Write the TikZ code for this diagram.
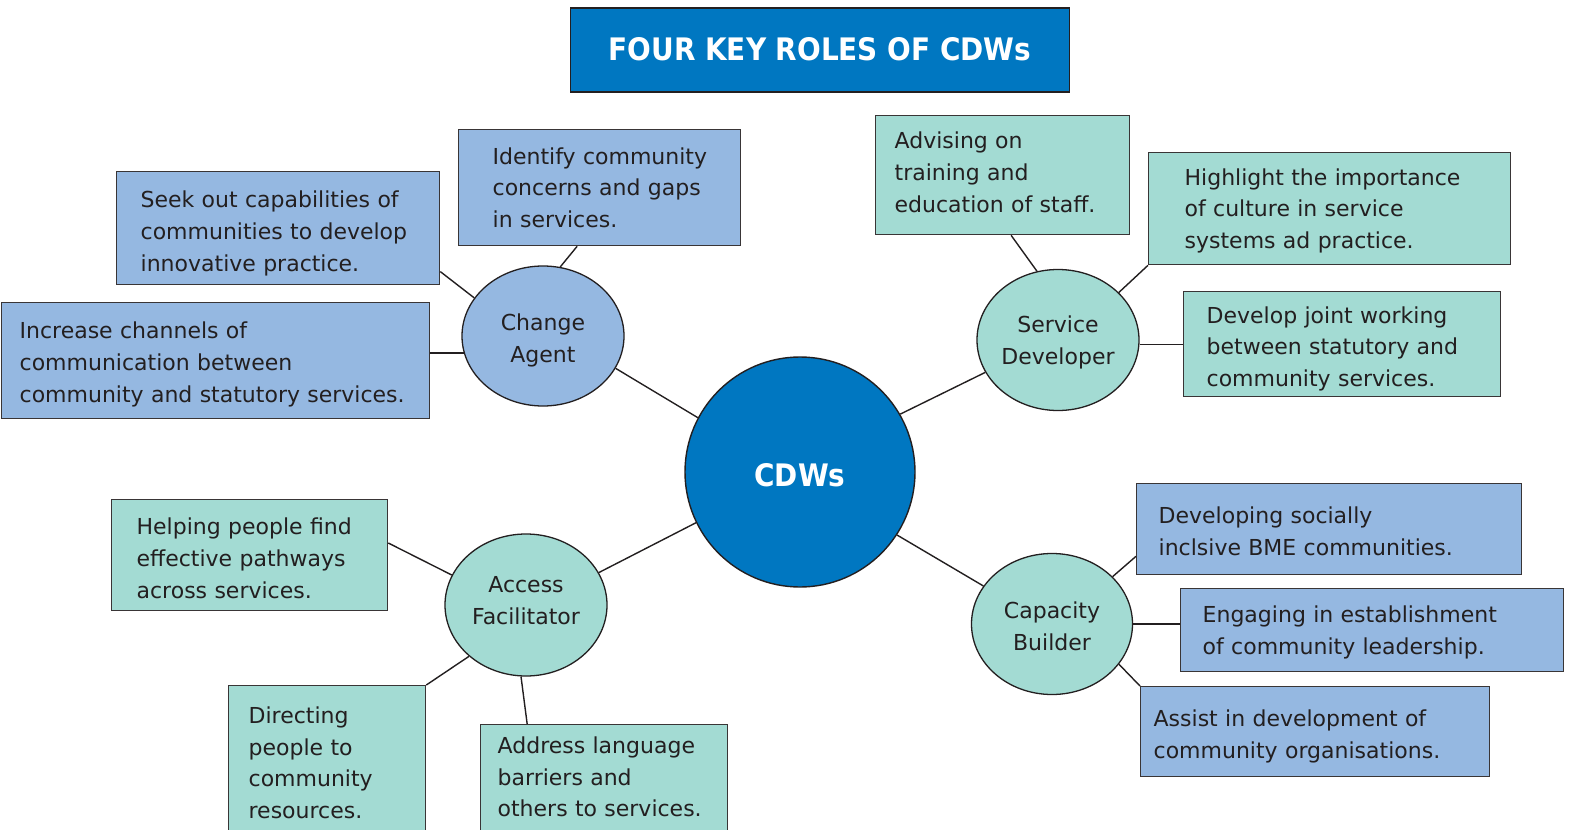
\documentclass[tikz,border=0pt]{standalone}
\usepackage{fontspec}
\setmainfont{DejaVu Sans}
\newfontfamily\headfont{DejaVu Sans Condensed}
\usetikzlibrary{calc,shapes.geometric}
\definecolor{cblue}{HTML}{0077C1}
\definecolor{lblue}{HTML}{95B8E1}
\definecolor{lteal}{HTML}{A3DBD3}
\definecolor{ink}{HTML}{231F20}
\newcommand\dn[1]{\rule{0pt}{#1pt}}
\newcommand\upx[1]{\rule[-#1pt]{0pt}{#1pt}}
\begin{document}
\begin{tikzpicture}[x=1pt,y=-1pt,
  every node/.style={font=\fontsize{22}{31.7}\selectfont, text=ink},
  box/.style={draw=ink!90, line width=1.3pt, rectangle, align=left, inner xsep=0pt, inner ysep=0pt, anchor=north west},
  bluebox/.style={box, fill=lblue},
  tealbox/.style={box, fill=lteal},
  role/.style={draw=ink, line width=1.3pt, ellipse, align=center, inner sep=0pt},
  conn/.style={draw=ink, line width=1.4pt}]
\useasboundingbox (0,0) rectangle (1569,830);
\clip (0,0) rectangle (1569,830);
\fill[white] (0,0) rectangle (1569,830);

% title
\node[draw=ink, line width=1.3pt, fill=cblue, minimum width=499, minimum height=84, inner sep=0pt,
      text=white, font=\fontsize{31}{36}\selectfont\headfont\bfseries] (title) at (820,50) {FOUR KEY ROLES OF CDWs\upx{3}};

% centre
\node[circle, draw=ink, line width=1.4pt, fill=cblue, minimum size=230, inner sep=0pt,
      text=white, font=\fontsize{31}{36}\selectfont\headfont\bfseries] (c) at (800,472) {\dn{29}CDWs};

% roles
\node[role, fill=lblue, minimum width=162, minimum height=140] (ca) at (543,336) {\dn{25}Change\\Agent};
\node[role, fill=lteal, minimum width=162, minimum height=141] (sd) at (1058,340) {\dn{21}Service\\Developer};
\node[role, fill=lteal, minimum width=162, minimum height=142] (af) at (526,605) {Access\\Facilitator\upx{9}};
\node[role, fill=lteal, minimum width=161, minimum height=141] (cb) at (1052,624) {\dn{21}Capacity\\Builder};

% boxes
\node[bluebox, minimum width=323, minimum height=113, text width=275] (b1) at (116,171)
  {\mbox{\dn{27}Seek out capabilities of}\\\mbox{communities to develop}\\\mbox{innovative practice.}};
\node[bluebox, minimum width=282, minimum height=116, text width=214] (b2) at (458,129)
  {\mbox{Identify community}\\\mbox{concerns and gaps}\\\mbox{in services.}};
\node[bluebox, minimum width=428, minimum height=116, text width=392] (b3) at (1,302)
  {\mbox{\dn{24}Increase channels of}\\\mbox{communication between}\\\mbox{community and statutory services.}};
\node[tealbox, minimum width=254, minimum height=119, text width=216] (b4) at (875,115)
  {\mbox{Advising on}\\\mbox{training and}\\\mbox{education of staff.\upx{6}}};
\node[tealbox, minimum width=362, minimum height=112, text width=290] (b5) at (1148,152)
  {\mbox{\dn{21}Highlight the importance}\\\mbox{of culture in service}\\\mbox{systems ad practice.}};
\node[tealbox, minimum width=317, minimum height=105, text width=271] (b6) at (1183,291)
  {\mbox{\dn{26}Develop joint working}\\\mbox{between statutory and}\\\mbox{community services.}};
\node[bluebox, minimum width=385, minimum height=91, text width=341] (b7) at (1136,483)
  {\mbox{\dn{21}Developing socially}\\\mbox{inclsive BME communities.}};
\node[bluebox, minimum width=383, minimum height=83, text width=339] (b8) at (1180,588)
  {\mbox{\dn{21}Engaging in establishment}\\\mbox{of community leadership.}};
\node[bluebox, minimum width=349, minimum height=90, text width=323] (b9) at (1140,686)
  {\mbox{\dn{26}Assist in development of}\\\mbox{community organisations.}};
\node[tealbox, minimum width=276, minimum height=111, text width=226] (b10) at (111,499)
  {\mbox{\dn{23}Helping people find}\\\mbox{effective pathways}\\\mbox{across services.}};
\node[tealbox, minimum width=197, text width=157, inner ysep=21pt, text depth=200pt] (b11) at (228,685)
  {\mbox{Directing}\\\mbox{people to}\\\mbox{community}\\\mbox{resources.}};
\node[tealbox, minimum width=247, text width=213, inner ysep=12pt, text depth=200pt] (b12) at (480,724)
  {\mbox{Address language}\\\mbox{barriers and}\\\mbox{others to services.}};

% connectors
\draw[conn] (ca.151) -- (b1.-15);
\draw[conn] (ca.76) -- (b2.-111);
\draw[conn] (ca.-168) -- (b3.east |- ca.-168);
\draw[conn] (ca.-24) -- (c.152);

\draw[conn] (sd.107) -- (b4.-82);
\draw[conn] (sd.38) -- (b5.south west);
\draw[conn] (sd.-3) -- (b6.west |- sd.-3);
\draw[conn] (sd.-156) -- (c.30);

\draw[conn] (af.158) -- (b10.5);
\draw[conn] (af.-138) -- (b11.north east);
\draw[conn] (af.-94) -- ($(b12.north west)!0.19!(b12.north east)$);
\draw[conn] (af.24) -- (c.-154);

\draw[conn] (cb.38) -- (b7.-172);
\draw[conn] (cb.0) -- (b8.west |- cb.0);
\draw[conn] (cb.-31) -- (b9.north west);
\draw[conn] (cb.151) -- (c.-33);
\end{tikzpicture}
\end{document}
